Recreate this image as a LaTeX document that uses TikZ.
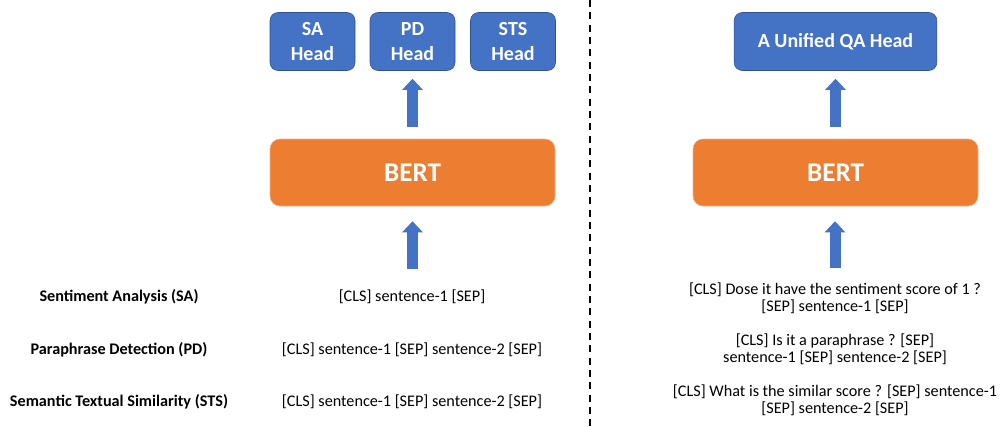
\documentclass[tikz,border=0pt]{standalone}
\usepackage{fontspec}
\setmainfont{Carlito}
\usetikzlibrary{arrows.meta}
\definecolor{headblue}{HTML}{4472C4}
\definecolor{headline}{HTML}{2F528F}
\definecolor{bertorange}{HTML}{ED7D31}
\definecolor{bertline}{HTML}{F4B183}
\begin{document}
\begin{tikzpicture}[x=0.75pt,y=-0.75pt]
\tikzset{head/.style = {draw=headline,fill=headblue,rounded corners=6pt,text=white,
  minimum height=43.5pt,inner sep=0pt,align=center,font=\fontsize{15}{18.75}\selectfont\bfseries}}
\tikzset{bert/.style = {draw=bertline,fill=bertorange,rounded corners=7.5pt,text=white,
  minimum width=213.75pt,minimum height=50.25pt,font=\fontsize{20.3}{24}\selectfont\bfseries}}
\tikzset{task/.style = {font=\fontsize{12.15}{14}\selectfont\bfseries}}
\tikzset{input/.style = {align=center,font=\fontsize{12.15}{13.1}\selectfont}}
\tikzset{up/.style = {draw=headblue,line width=8.25pt,-{Triangle[width=15pt,length=8.25pt]}}}
\useasboundingbox (0,0) rectangle (1000,426);
% heads on the left
\node[head,minimum width=63.75pt] (sa) at (312.5,41.5) {SA\\Head};
\node[head,minimum width=63.75pt] (pd) at (412.5,41.5) {PD\\Head};
\node[head,minimum width=63.75pt] (sts) at (513,41.5) {STS\\Head};
\node[bert] (bertl) at (412.5,172.5) {BERT};
% tasks and their inputs
\node[task] (tsa) at (119,297) {Sentiment Analysis (SA)};
\node[task] (tpd) at (119,350) {Paraphrase Detection (PD)};
\node[task] (tsts) at (119,402) {Semantic Textual Similarity (STS)};
\node[input] (insa) at (412,297) {[CLS] sentence-1 [SEP]};
\node[input] (inpd) at (412,350) {[CLS] sentence-1 [SEP] sentence-2 [SEP]};
\node[input] (insts) at (412,402) {[CLS] sentence-1 [SEP] sentence-2 [SEP]};
% separator
\draw[line width=1.5pt,dash pattern=on 5.25pt off 4pt] (590,0) -- (590,426);
% unified head on the right
\node[head,minimum width=152pt] (qa) at (835.5,41.5) {A Unified QA Head};
\node[bert] (bertr) at (835.5,172.5) {BERT};
\node[input] (qsa) at (835,298) {[CLS] Dose it have the sentiment score of 1 ?\\{}[SEP] sentence-1 [SEP]};
\node[input] (qpd) at (835,349.5) {[CLS] Is it a paraphrase ? [SEP]\\ sentence-1 [SEP] sentence-2 [SEP]};
\node[input] (qsts) at (835,400.5) {[CLS] What is the similar score ? [SEP] sentence-1\\{}[SEP] sentence-2 [SEP]};
% arrows
\coordinate (inl) at (412.5,269);
\coordinate (inr) at (835,268);
\draw[up,shorten <=9pt,shorten >=6pt] (bertl.north) -- (pd.south);
\draw[up,shorten >=11.25pt] (inl) -- (bertl.south);
\draw[up,shorten <=9pt,shorten >=6pt] (bertr.north -| qa.south) -- (qa.south);
\draw[up,shorten >=11.25pt] (inr) -- (inr |- bertr.south);
\end{tikzpicture}
\end{document}
